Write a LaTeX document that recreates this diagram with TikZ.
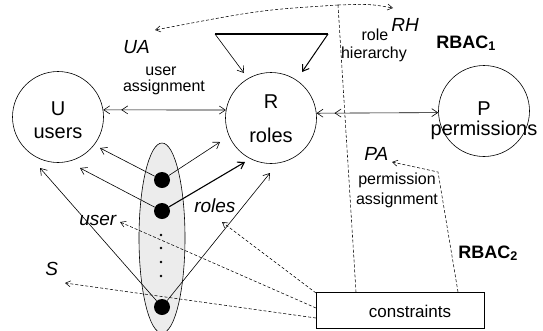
\documentclass[tikz,border=0pt]{standalone}
\usepackage{fontspec}
\setmainfont{Liberation Sans}
\usetikzlibrary{arrows.meta,shapes.geometric,decorations.markings}
\begin{document}
\begin{tikzpicture}[x=1pt,y=-1pt,
  >={Straight Barb[length=6pt,width=8pt]},
  line width=0.6pt,
  bigc/.style={circle,draw,line width=0.6pt,minimum size=91pt,inner sep=0pt},
  bigdot/.style={circle,fill=black,inner sep=0pt,minimum size=16pt},
  smalldot/.style={circle,fill=black,inner sep=0pt,minimum size=2.6pt},
  cons/.style={dash pattern=on 3pt off 2pt,line width=0.55pt,
    -{Straight Barb[length=5pt,width=6pt]}},
  consln/.style={dash pattern=on 3pt off 2pt,line width=0.55pt},
  circtxt/.style={font=\fontsize{20}{22}\selectfont,inner sep=0pt,anchor=base},
  lbl/.style={font=\fontsize{16}{18}\selectfont,inner sep=0pt,anchor=base},
  itl/.style={font=\fontsize{19}{21}\selectfont\itshape,inner sep=0pt,anchor=base},
  rbac/.style={font=\fontsize{18}{20}\selectfont\bfseries,inner sep=0pt,anchor=base},
  dbl/.style={postaction={decorate},decoration={markings,
    mark=at position 18pt with {\arrowreversed{Straight Barb[length=6pt,width=8pt]}}}}]
\useasboundingbox (0,0) rectangle (543,330);

% circles
\node[bigc] (U) at (58,117) {};
\node[bigc] (R) at (271,118) {};
\node[bigc] (P) at (484,111) {};
\node[circtxt] (Ut) at (58,115) {U};
\node[circtxt] (Us) at (58,138) {users};
\node[circtxt] (Rt) at (271,108) {R};
\node[circtxt] (Rs) at (271,142) {roles};
\node[circtxt] (Pt) at (484,115) {P};
\node[circtxt] (Ps) at (484,135) {permissions};

% UA and PA assignments
\draw[<->,dbl] (U.9) -- (R.170);
\draw[<->,dbl] (R.6) -- (P.182);

% role hierarchy triangle
\coordinate (t1) at (215,34);
\coordinate (t2) at (328,34);
\coordinate (a1) at (244,73);
\coordinate (a2) at (302,72);
\draw[line width=1.2pt] (t1) -- (t2);
\draw[->] (t1) -- (a1);
\draw[->,line width=1pt] (t2) -- (a2);

% sessions ellipse
\node[ellipse,draw,fill=gray!15,line width=0.6pt,minimum width=46pt,minimum height=190pt,inner sep=0pt] (S) at (162,238) {};
\node[bigdot] (d1) at (162,180) {};
\node[bigdot] (d2) at (162,211) {};
\node[bigdot] (d3) at (162,307) {};
\node[smalldot] (s1) at (161,235) {};
\node[smalldot] (s2) at (161,248) {};
\node[smalldot] (s3) at (161,262) {};
\node[smalldot] (s4) at (161,276) {};

\coordinate (u1) at (100,148);
\coordinate (u2) at (80,168);
\coordinate (u3) at (40,168);
\coordinate (r1) at (220,142);
\coordinate (r2) at (245,162);
\coordinate (r3) at (270,173);
\draw[->] (d1) -- (u1);
\draw[->] (d2) -- (u2);
\draw[->] (d3) -- (u3);
\draw[->] (d1) -- (r1);
\draw[->,line width=1.1pt] (d2) -- (r2);
\draw[->] (d3) -- (r3);

% constraints
\node[draw,line width=0.8pt,minimum width=168pt,minimum height=36pt,inner sep=0pt] (C) at (400,310) {};
\node[font=\fontsize{17}{19}\selectfont,inner sep=0pt,anchor=base] (Ct) at (410,317) {constraints};

\coordinate (pk) at (338,5);
\coordinate (uaT) at (155,30);
\coordinate (rhT) at (393,8);
\coordinate (v1) at (356,292);
\draw[cons] (pk) .. controls (260,10) .. (uaT);
\draw[cons] (pk) .. controls (370,4) .. (rhT);
\draw[consln] (pk) -- (v1);

\coordinate (pa1) at (458,292);
\coordinate (pab) at (438,172);
\coordinate (paT) at (392,162);
\draw[cons] (pa1) -- (pab) -- (paT);

\coordinate (c1) at (316,293);
\coordinate (c2) at (316,308);
\coordinate (c3) at (316,318);
\coordinate (roT) at (222,222);
\coordinate (usT) at (120,222);
\coordinate (sT) at (65,283);
\draw[cons] (c1) -- (roT);
\draw[cons] (c2) -- (usT);
\draw[cons] (c3) -- (sT);

% labels
\node[itl,anchor=base west] (UA) at (123,53) {UA};
\node[lbl] (ua1) at (161,75) {user};
\node[lbl] (ua2) at (164,91) {assignment};
\node[lbl] (rh1) at (375,40) {role};
\node[itl,anchor=base west] (RH) at (391,31) {RH};
\node[lbl] (rh2) at (374,58) {hierarchy};
\node[rbac,anchor=base west] (RB1) at (436,48) {RBAC\textsubscript{1}};
\node[itl,anchor=base west] (PA) at (364,160) {PA};
\node[lbl] (pa2) at (397,184) {permission};
\node[lbl] (pa3) at (397,204) {assignment};
\node[rbac,anchor=base west] (RB2) at (458,258) {RBAC\textsubscript{2}};
\node[itl,anchor=base west] (usr) at (79,225) {user};
\node[itl,anchor=base west] (rol) at (194,212) {roles};
\node[itl,anchor=base west] (Sl) at (45,275) {S};
\end{tikzpicture}
\end{document}
